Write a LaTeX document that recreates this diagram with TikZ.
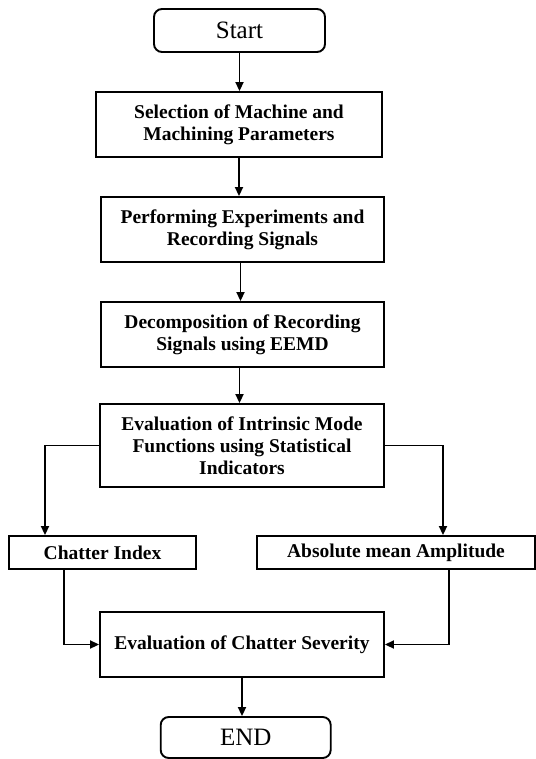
\documentclass[tikz,border=0pt]{standalone}
\usepackage{fontspec}
\setmainfont{Liberation Serif}
\usetikzlibrary{arrows.meta}
\tikzset{
  base/.style={draw=black, line width=1.9pt, inner sep=0pt, align=center, anchor=center},
  termbox/.style={base, rounded corners=8pt, font=\fontsize{25}{28}\selectfont},
  procbox/.style={base, font=\bfseries\fontsize{19.5}{22}\selectfont},
  arr/.style={line width=1.9pt, -{Triangle[length=9pt,width=8pt]}}
}
\begin{document}
\begin{tikzpicture}[x=1pt,y=-1pt]
\useasboundingbox (0,0) rectangle (535,759);
\node[termbox, minimum width=171pt, minimum height=43pt] (start) at (239.5,30.5) {Start};
\node[procbox, minimum width=286pt, minimum height=65pt] (sel) at (239,124.5) {Selection of Machine and\\Machining Parameters};
\node[procbox, minimum width=283pt, minimum height=65pt] (perf) at (242.5,229.5) {Performing Experiments and\\Recording Signals};
\node[procbox, minimum width=283pt, minimum height=65pt] (dec) at (242.5,334.5) {Decomposition of Recording\\Signals using EEMD};
\node[procbox, minimum width=284pt, minimum height=83pt] (imf) at (242,445.5) {Evaluation of Intrinsic Mode\\Functions using Statistical\\Indicators};
\node[procbox, minimum width=187pt, minimum height=33pt] (ci) at (102.5,552.5) {Chatter Index};
\node[procbox, minimum width=278pt, minimum height=33pt] (ama) at (396,552.5) {Absolute mean Amplitude};
\node[procbox, minimum width=284pt, minimum height=65pt] (sev) at (242,644.5) {Evaluation of Chatter Severity};
\node[termbox, minimum width=170pt, minimum height=41pt] (end) at (245.7,737.5) {END};
\draw[arr] (start.south) -- (start.south |- sel.north);
\draw[arr] (sel.south) -- (sel.south |- perf.north);
\draw[arr] ([xshift=-2pt]perf.south) -- ([xshift=-2pt]perf.south |- dec.north);
\draw[arr] ([xshift=-3pt]dec.south) -- ([xshift=-3pt]dec.south |- imf.north);
\draw[arr] (imf.west) -| ([xshift=-57.5pt]ci.north);
\draw[arr] (imf.east) -| ([xshift=47pt]ama.north);
\draw[arr] ([xshift=-38.5pt]ci.south) |- (sev.west);
\draw[arr] ([xshift=53pt]ama.south) |- (sev.east);
\draw[arr] (sev.south) -- (sev.south |- end.north);
\end{tikzpicture}
\end{document}
